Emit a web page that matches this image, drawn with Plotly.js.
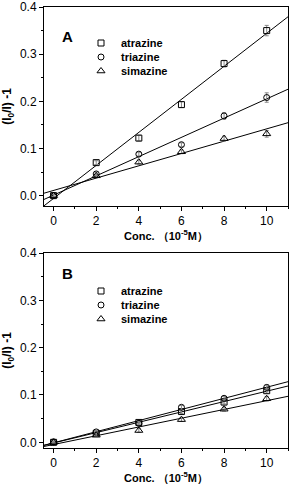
<!DOCTYPE html>
<html><head><meta charset="utf-8">
<script src="https://cdn.plot.ly/plotly-3.0.1.min.js"></script>
<style>html,body{margin:0;padding:0;background:#fff}#c{width:290px;height:489px}</style>
</head><body><div id="c"></div>
<script>
const conc = [0, 2, 4, 6, 8, 10];
const seriesNames = ['atrazine', 'triazine', 'simazine'];
// Panel A
const A_atrazine = [0, 0.070, 0.122, 0.193, 0.280, 0.350];
const A_triazine = [0, 0.046, 0.088, 0.108, 0.169, 0.208];
const A_simazine = [0, 0.042, 0.071, 0.093, 0.121, 0.131];
const A_err_atrazine = [0.003, 0.004, 0.006, 0.006, 0.007, 0.011];
const A_err_triazine = [0.003, 0.004, 0.004, 0.004, 0.007, 0.010];
const A_err_simazine = [0.003, 0.003, 0.004, 0.004, 0.005, 0.007];
// Panel B
const B_atrazine = [0, 0.019, 0.042, 0.065, 0.085, 0.109];
const B_triazine = [0.001, 0.022, 0.040, 0.074, 0.093, 0.116];
const B_simazine = [0, 0.015, 0.025, 0.048, 0.070, 0.092];
const B_err_atrazine = [0.002, 0.003, 0.003, 0.004, 0.004, 0.005];
const B_err_triazine = [0.002, 0.003, 0.003, 0.004, 0.004, 0.005];
const B_err_simazine = [0.002, 0.003, 0.004, 0.004, 0.004, 0.005];
const xTicks = [0, 2, 4, 6, 8, 10];
const yTicks = [0.0, 0.1, 0.2, 0.3, 0.4];
const yTickText = ['0.0', '0.1', '0.2', '0.3', '0.4'];

const symbols = ['square-open', 'circle-open', 'triangle-up-open'];
const msizes = [6, 6, 7];
const xr = [-0.45, 11];

function fit(x, y) {
  const n = x.length;
  const mx = x.reduce((a, b) => a + b, 0) / n;
  const my = y.reduce((a, b) => a + b, 0) / n;
  let sxy = 0, sxx = 0;
  for (let i = 0; i < n; i++) { sxy += (x[i] - mx) * (y[i] - my); sxx += (x[i] - mx) ** 2; }
  const b = sxy / sxx;
  return [b, my - b * mx];
}

const traces = [];
function addPanel(data, errs, xa, ya, legIds) {
  data.forEach((y, i) => {
    const [b, a] = fit(conc, y);
    traces.push({
      x: xr, y: xr.map(v => a + b * v), xaxis: xa, yaxis: ya, mode: 'lines',
      line: {color: '#000', width: 1}, showlegend: false, hoverinfo: 'skip'
    });
  });
  data.forEach((y, i) => {
    traces.push({
      x: conc, y: y, xaxis: xa, yaxis: ya, mode: 'markers', name: seriesNames[i],
      legend: legIds[i],
      marker: {symbol: symbols[i], size: msizes[i], color: '#000', line: {color: '#000', width: 1}},
      error_y: {type: 'data', array: errs[i], visible: true, color: '#888', thickness: 1, width: 2}
    });
  });
}
addPanel([A_atrazine, A_triazine, A_simazine], [A_err_atrazine, A_err_triazine, A_err_simazine], 'x', 'y',
  ['legend', 'legend2', 'legend3']);
addPanel([B_atrazine, B_triazine, B_simazine], [B_err_atrazine, B_err_triazine, B_err_simazine], 'x2', 'y2',
  ['legend4', 'legend5', 'legend6']);

const F = 'Liberation Sans, Arial, sans-serif';
const xdom = [44 / 290, 288 / 290];
function xaxis(anchor) {
  return {
    domain: xdom, anchor: anchor, range: xr, tickvals: xTicks, ticks: 'outside', ticklen: 4, tickwidth: 1,
    tickcolor: '#000', showline: true, linecolor: '#000', linewidth: 1, mirror: true, zeroline: false,
    showgrid: false, tickfont: {family: F, size: 12, color: '#000'},
    minor: {tickvals: [1, 3, 5, 7, 9, 11], ticks: 'outside', ticklen: 2, tickcolor: '#000'},
    title: {text: '<b>Conc. （10<sup>-5</sup>M）</b>', font: {family: F, size: 11, color: '#000'}, standoff: 4}
  };
}
function yaxis(anchor, dom, lo) {
  return {
    domain: dom, anchor: anchor, range: [lo, 0.4], tickvals: yTicks, ticktext: yTickText, ticks: 'outside',
    ticklen: 4, tickwidth: 1, tickcolor: '#000', showline: true, linecolor: '#000', linewidth: 1, mirror: true,
    zeroline: false, showgrid: false, tickfont: {family: F, size: 12, color: '#000'},
    minor: {tickvals: [0.05, 0.15, 0.25, 0.35], ticks: 'outside', ticklen: 2, tickcolor: '#000'},
    title: {text: '<b>(I<sub>0</sub>/I) -1</b>', font: {family: F, size: 12, color: '#000'}, standoff: 6}
  };
}
function leg(yc) {
  return {
    bgcolor: 'rgba(0,0,0,0)', borderwidth: 0, font: {family: F, size: 11, color: '#000', weight: 'bold'},
    xanchor: 'left', yanchor: 'middle', x: 81 / 290, y: 1 - yc / 489, itemwidth: 30
  };
}
const layout = {
  width: 290, height: 489, margin: {l: 0, r: 0, t: 0, b: 0}, paper_bgcolor: '#fff', plot_bgcolor: '#fff',
  xaxis: xaxis('y'), yaxis: yaxis('x', [1 - 206 / 489, 1 - 7 / 489], -0.022),
  xaxis2: xaxis('y2'), yaxis2: yaxis('x2', [1 - 448 / 489, 1 - 253 / 489], -0.012),
  legend: leg(43), legend2: leg(57), legend3: leg(71),
  legend4: leg(291), legend5: leg(305), legend6: leg(319),
  annotations: [
    {text: '<b>A</b>', x: 60 / 290, y: 1 - 26 / 489, xref: 'paper', yref: 'paper', showarrow: false,
     font: {family: F, size: 15, color: '#000'}},
    {text: '<b>B</b>', x: 60 / 290, y: 1 - 273 / 489, xref: 'paper', yref: 'paper', showarrow: false,
     font: {family: F, size: 15, color: '#000'}}
  ],
  showlegend: true
};
Plotly.newPlot('c', traces, layout, {staticPlot: true, displayModeBar: false});
</script></body></html>
